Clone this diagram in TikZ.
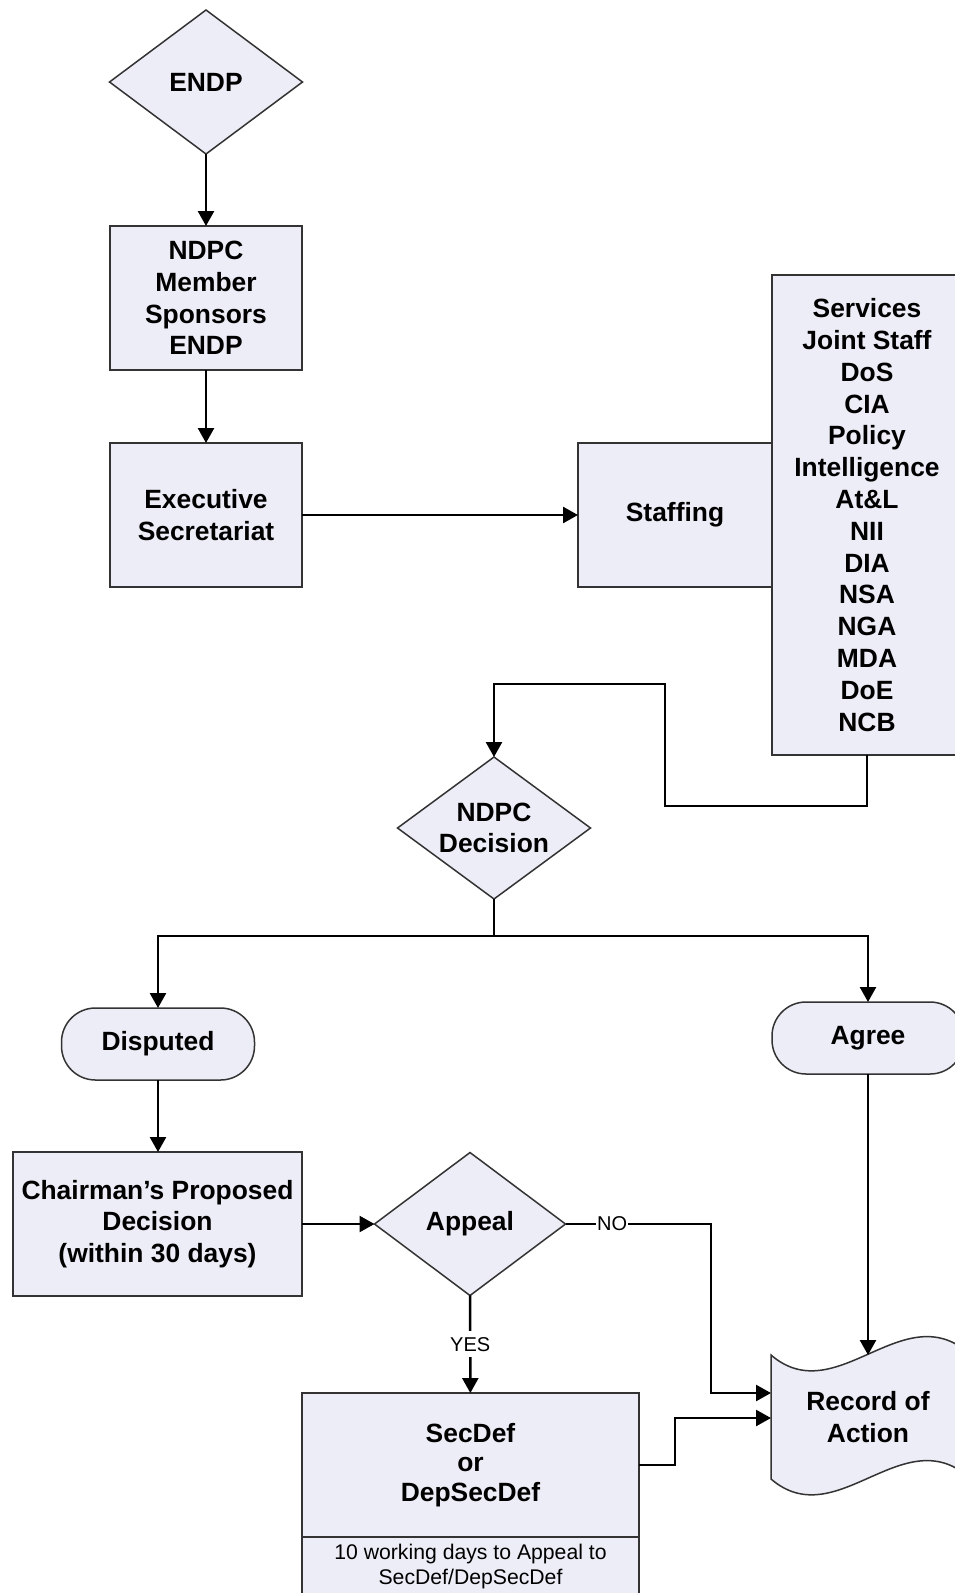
\documentclass[tikz,border=0pt]{standalone}
\usepackage{fontspec}
\setmainfont{Liberation Sans}
\usetikzlibrary{shapes.geometric,arrows.meta,positioning}
\definecolor{relleno}{RGB}{236,237,246}

\begin{document}
\begin{tikzpicture}[x=1pt, y=-1pt,
    borde/.style={draw=black!80, line width=1.5pt, fill=relleno},
    caja/.style={borde, align=center, inner sep=2pt, outer sep=0pt,
      font=\bfseries\fontsize{26.4}{31.8}\selectfont},
    rombo/.style={caja, diamond, inner sep=0pt, aspect=1.35},
    terminal/.style={caja, rounded corners=34pt},
    flecha/.style={line width=2.5pt, -{Triangle[width=16pt,length=15pt]}},
    etiqueta/.style={fill=white, inner xsep=1pt, inner ysep=6pt, font=\fontsize{20}{24}\selectfont}]
    \useasboundingbox (0,0) rectangle (954,1593);
    % Nodos de arriba
    \node[rombo, minimum width=193pt, minimum height=144pt] (endp) at (206,82) {ENDP};
    \node[caja, minimum width=192pt, minimum height=144pt] (miembro) at (206,298) {NDPC\\Member\\Sponsors\\ENDP};
    \node[caja, minimum width=192pt, minimum height=144pt] (secret) at (206,515) {Executive\\Secretariat};
    \node[caja, minimum width=194pt, minimum height=144pt] (staff) at (675,515) {Staffing};
    \node[caja, minimum width=190pt, minimum height=480pt] (agencias) at (867,515)
      {Services\\Joint Staff\\DoS\\CIA\\Policy\\Intelligence\\At\&L\\NII\\DIA\\NSA\\NGA\\MDA\\DoE\\NCB};
    % Decision
    \node[rombo, minimum width=193pt, minimum height=142pt] (decision) at (494,828) {NDPC\\Decision};
    \node[terminal, minimum width=193pt, minimum height=72pt] (disputa) at (158,1044) {Disputed};
    \node[terminal, minimum width=192pt, minimum height=72pt] (acuerdo) at (868,1038) {Agree};
    % Apelacion
    \node[caja, minimum width=289pt, minimum height=144pt] (chairman) at (157.5,1224) {Chairman's Proposed\\Decision\\(within 30 days)};
    \node[rombo, minimum width=191pt, minimum height=143pt] (apelacion) at (470,1224) {Appeal};
    \node[caja, minimum width=337pt, minimum height=144pt, font=\bfseries\fontsize{26.4}{29.5}\selectfont] (secdef) at (470.5,1465) {SecDef\\or\\DepSecDef};
    \node[caja, minimum width=337pt, minimum height=58pt, font=\fontsize{21.2}{25}\selectfont, below=0pt of secdef] (nota) {10 working days to Appeal to\\SecDef/DepSecDef};
    % Registro (cinta)
    \path[borde] (771,1355) .. controls (835,1410) and (900,1300) .. (965,1350) -- (965,1474)
      .. controls (900,1424) and (835,1534) .. (771,1479) -- cycle;
    \node[align=center, minimum width=194pt, minimum height=124pt, inner sep=0pt, outer sep=0pt,
      font=\bfseries\fontsize{26.4}{31.8}\selectfont] (registro) at (868,1417) {Record of\\Action};
    % Flechas principales
    \draw[flecha] (endp) -- (miembro);
    \draw[flecha] (miembro) -- (secret);
    \draw[flecha] (secret) -- (staff);
    % Vuelta desde las agencias
    \coordinate (vuelta1) at (665,806);
    \coordinate (vuelta2) at (665,684);
    \draw[flecha] (agencias.south) |- (vuelta1) -- (vuelta2) -| (decision.north);
    % Bifurcacion
    \coordinate (rama) at (494,936);
    \draw[line width=2.5pt] (decision.south) -- (rama);
    \draw[flecha] (rama) -| (disputa.north);
    \draw[flecha] (rama) -| (acuerdo.north);
    \draw[flecha] (disputa) -- (disputa |- chairman.north);
    \draw[flecha] (chairman) -- (apelacion);
    \draw[flecha] (apelacion) -- node[etiqueta] {YES} (secdef);
    % Hacia el registro
    \coordinate (no1) at (711,1393);
    \draw[flecha] (apelacion.east) -| node[etiqueta, pos=0.16] {NO} (no1) -- (no1 -| registro.west);
    \coordinate (si1) at (675,1418);
    \draw[flecha] (secdef.east) -| (si1) -- (si1 -| registro.west);
    \draw[flecha] (acuerdo) -- (registro.north);
\end{tikzpicture}
\end{document}
